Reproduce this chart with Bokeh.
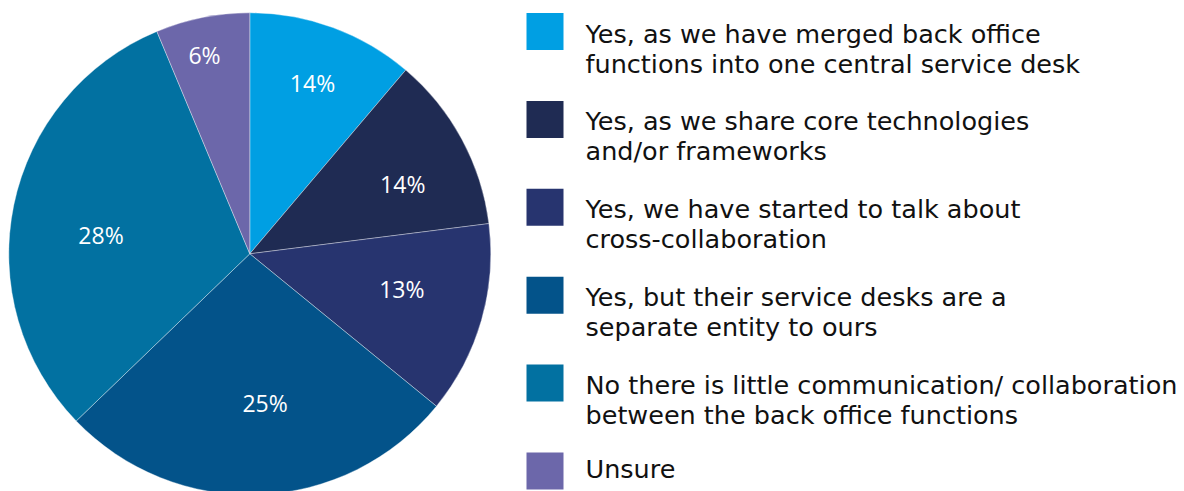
import math
from bokeh.plotting import figure
from bokeh.models import Range1d, ColumnDataSource
from bokeh.core.properties import value
from bokeh.embed import file_html
from bokeh.resources import INLINE

# ---- data ----
categories = [
    "Yes, as we have merged back office\nfunctions into one central service desk",
    "Yes, as we share core technologies\nand/or frameworks",
    "Yes, we have started to talk about\ncross-collaboration",
    "Yes, but their service desks are a\nseparate entity to ours",
    "No there is little communication/ collaboration\nbetween the back office functions",
    "Unsure",
]
shares = [11.2, 11.8, 12.9, 26.9, 30.9, 6.3]          # slice sizes as drawn
pct_labels = ["14%", "14%", "13%", "25%", "28%", "6%"]  # printed labels
colors = ["#009FE3", "#1F2B53", "#27346F", "#03538A", "#0271A1", "#6C67AA"]

# ---- layout (screen-like coordinates: x right, y = -screen_y) ----
W, H = 1184, 491
CX, CY, R = 249.3, -253.3, 241.0
label_r = [182, 168, 156, 150, 150, 204]
label_nudge = [0, 4, -3, -3.5, -4.5, -1.5]   # degrees
FONT = "DejaVu Sans"
LFONT = "Open Sans"

p = figure(width=W, height=H, output_backend="svg", toolbar_location=None,
           x_range=Range1d(0, W), y_range=Range1d(-H, 0),
           min_border=0, outline_line_color=None, background_fill_color="white",
           border_fill_color="white")
p.axis.visible = False
p.xgrid.visible = False
p.ygrid.visible = False

total = sum(shares)
starts, ends, lx, ly = [], [], [], []
cum = 0.0
for i, s in enumerate(shares):
    a0 = cum / total * 2 * math.pi
    cum += s
    a1 = cum / total * 2 * math.pi
    starts.append(math.pi / 2 - a0)
    ends.append(math.pi / 2 - a1)
    mid = (a0 + a1) / 2 + math.radians(label_nudge[i])
    lx.append(CX + label_r[i] * math.sin(mid))
    ly.append(CY + label_r[i] * math.cos(mid))

src = ColumnDataSource(dict(start=starts, end=ends, color=colors))
p.wedge(x=CX, y=CY, radius=R, start_angle="start", end_angle="end",
        direction="clock", fill_color="color", line_color="white",
        line_width=0.6, line_alpha=0.6, source=src)

p.text(x=lx, y=ly, text=pct_labels, text_color="white",
       text_font=value(LFONT), text_font_size="23px",
       text_align="center", text_baseline="middle")

# legend
SQ = 37
tops = [12.5 + 87.9 * i for i in range(len(categories))]
p.quad(left=[526] * len(tops), right=[526 + SQ] * len(tops),
       top=[-t for t in tops], bottom=[-(t + SQ) for t in tops],
       fill_color=colors, line_color=None)

tx, ty, tt = [], [], []
for t, lab in zip(tops, categories):
    lines = lab.split("\n")
    base = t + (20.5 if len(lines) > 1 else 16.5)
    for j, ln in enumerate(lines):
        tx.append(585)
        ty.append(-(base + 30 * j))
        tt.append(ln)
p.text(x=tx, y=ty, text=tt, text_color="#111111", text_font=value(FONT),
       text_font_size="25.5px", text_align="left", text_baseline="alphabetic")

open("out.html", "w").write(file_html(p, INLINE))
